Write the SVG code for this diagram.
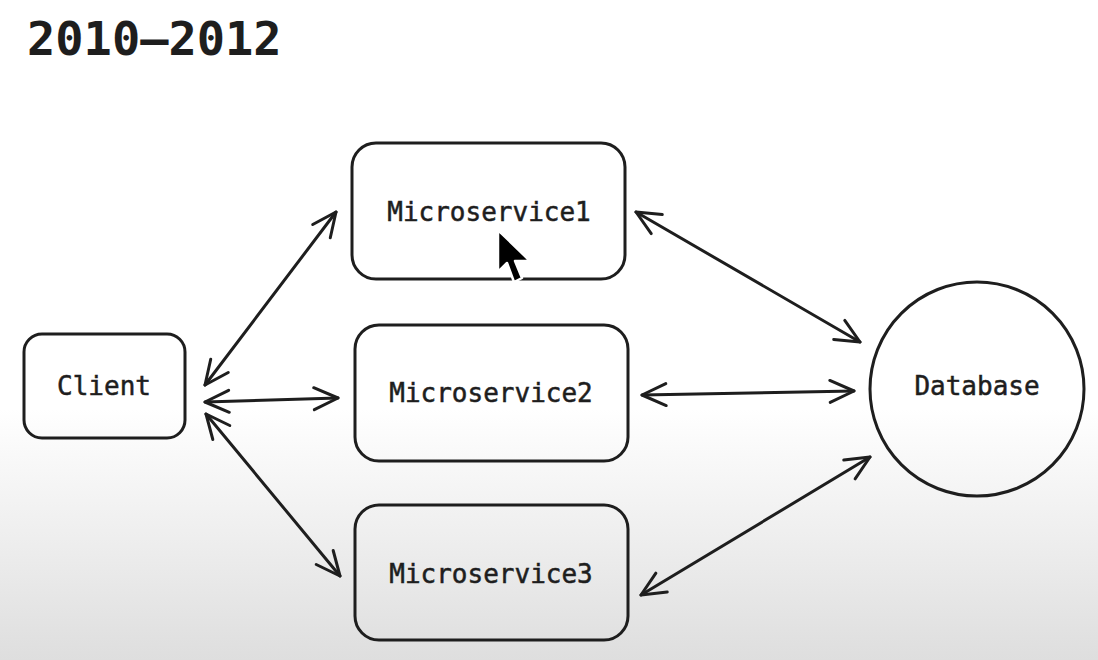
<svg xmlns="http://www.w3.org/2000/svg" width="1098" height="660" viewBox="0 0 1098 660">
  <defs>
    <linearGradient id="bg" x1="0" y1="0" x2="0" y2="1">
      <stop offset="0" stop-color="#ffffff"/>
      <stop offset="0.62" stop-color="#ffffff"/>
      <stop offset="1" stop-color="#dedede"/>
    </linearGradient>
    <marker id="arr" viewBox="-30 -15 34 30" refX="0" refY="0" markerWidth="34" markerHeight="30" markerUnits="userSpaceOnUse" orient="auto-start-reverse">
      <path d="M -24 -11 L 0 0 L -24 11" fill="none" stroke="#1e1e1e" stroke-width="3" stroke-linecap="round" stroke-linejoin="round"/>
    </marker>
    <style>
      .box { fill: none; stroke: #1e1e1e; stroke-width: 3; }
      .lbl { font-family: "DejaVu Sans Mono", "Liberation Mono", monospace; font-size: 26px; fill: #1e1e1e; stroke: #1e1e1e; stroke-width: 0.5; text-anchor: middle; dominant-baseline: central; }
      .conn { fill: none; stroke: #1e1e1e; stroke-width: 3; stroke-linecap: round; marker-start: url(#arr); marker-end: url(#arr); }
    </style>
  </defs>
  <rect x="0" y="0" width="1098" height="660" fill="url(#bg)"/>
  <text x="27" y="55" font-family="DejaVu Sans Mono, Liberation Mono, monospace" font-size="47" font-weight="bold" fill="#1e1e1e">2010–2012</text>

  <g id="connectors">
    <line class="conn" x1="205" y1="385" x2="336" y2="212"/>
    <line class="conn" x1="205" y1="402" x2="338" y2="398"/>
    <line class="conn" x1="206" y1="414" x2="340" y2="576"/>
    <line class="conn" x1="636" y1="212" x2="860" y2="342"/>
    <line class="conn" x1="642" y1="395" x2="854" y2="391"/>
    <line class="conn" x1="641" y1="595" x2="870" y2="457"/>
  </g>

  <g id="client">
    <rect class="box" x="24" y="334" width="161" height="104" rx="18"/>
    <text class="lbl" x="104" y="386">Client</text>
  </g>
  <g id="microservice1">
    <rect class="box" x="352" y="143" width="273" height="136" rx="24"/>
    <text class="lbl" x="489" y="212">Microservice1</text>
  </g>
  <g id="microservice2">
    <rect class="box" x="355" y="325" width="273" height="136" rx="24"/>
    <text class="lbl" x="491" y="393">Microservice2</text>
  </g>
  <g id="microservice3">
    <rect class="box" x="355" y="505" width="273" height="135" rx="24"/>
    <text class="lbl" x="491" y="574">Microservice3</text>
  </g>
  <g id="database">
    <circle class="box" cx="977" cy="389" r="107"/>
    <text class="lbl" x="977" y="386">Database</text>
  </g>

  <g id="cursor">
    <polygon points="498,230 498,272 507,263 514,282 522,278 515,261 530,261" fill="#000" stroke="#fff" stroke-width="2.5" stroke-linejoin="round"/>
  </g>
</svg>
